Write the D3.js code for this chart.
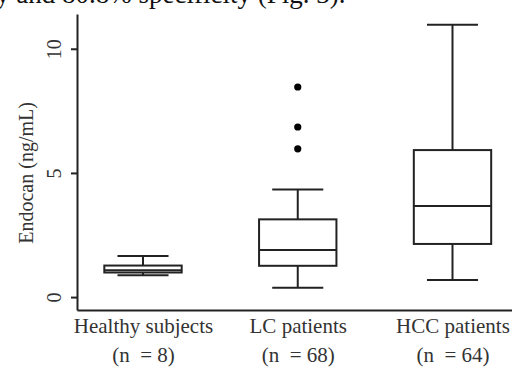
<!DOCTYPE html>
<html>
<head>
<meta charset="utf-8">
<script src="https://cdn.jsdelivr.net/npm/d3@7"></script>
<style>
  body { margin: 0; background: #fff; }
  svg { display: block; font-family: "Liberation Serif", "Times New Roman", serif; }
</style>
</head>
<body>
<svg id="chart" width="512" height="369"></svg>
<script>
const groups = ['Healthy subjects', 'LC patients', 'HCC patients'];
const counts = ['(n \u00a0= 8)', '(n \u00a0= 68)', '(n \u00a0= 64)'];
const whiskerLow = [0.88, 0.38, 0.69];
const q1 = [0.99, 1.26, 2.14];
const medians = [1.08, 1.90, 3.67];
const q3 = [1.27, 3.13, 5.92];
const whiskerHigh = [1.65, 4.33, 10.97];
const outliers = [[], [5.97, 6.85, 8.46], []];
const yTicks = [0, 5, 10];
const headerText = 'y and 80.8% specificity (Fig. 3).';

const svg = d3.select('#chart');
const ink = '#222';

// box centres at 143, 297.7, 452.5 px
const x = d3.scaleLinear().domain([0.5735, 3.3845]).range([77, 512]);
const y = d3.scaleLinear().domain([-0.52, 11.4]).range([310, 14]);
const boxHalf = 0.25;
const capHalf = 0.165;

// cut-off line of body text above the figure (clipped in the source too)
svg.append('text')
    .attr('x', -4)
    .attr('y', 3)
    .attr('font-size', 27)
    .attr('fill', '#111')
    .text(headerText);

const data = groups.map((g, i) => ({
    i: i + 1, lo: whiskerLow[i], q1: q1[i], med: medians[i],
    q3: q3[i], hi: whiskerHigh[i], out: outliers[i]
}));

const box = svg.append('g')
    .selectAll('g')
    .data(data)
    .join('g')
    .attr('stroke', ink)
    .attr('stroke-width', 2)
    .attr('fill', 'none');

// whiskers
box.append('line')
    .attr('x1', d => x(d.i)).attr('x2', d => x(d.i))
    .attr('y1', d => y(d.hi)).attr('y2', d => y(d.q3));
box.append('line')
    .attr('x1', d => x(d.i)).attr('x2', d => x(d.i))
    .attr('y1', d => y(d.q1)).attr('y2', d => y(d.lo));
// caps
box.append('line')
    .attr('x1', d => x(d.i - capHalf)).attr('x2', d => x(d.i + capHalf))
    .attr('y1', d => y(d.hi)).attr('y2', d => y(d.hi));
box.append('line')
    .attr('x1', d => x(d.i - capHalf)).attr('x2', d => x(d.i + capHalf))
    .attr('y1', d => y(d.lo)).attr('y2', d => y(d.lo));
// box
box.append('rect')
    .attr('x', d => x(d.i - boxHalf))
    .attr('width', d => x(d.i + boxHalf) - x(d.i - boxHalf))
    .attr('y', d => y(d.q3))
    .attr('height', d => y(d.q1) - y(d.q3))
    .attr('fill', '#fff');
// median
box.append('line')
    .attr('x1', d => x(d.i - boxHalf)).attr('x2', d => x(d.i + boxHalf))
    .attr('y1', d => y(d.med)).attr('y2', d => y(d.med));
// outliers
box.selectAll('circle')
    .data(d => d.out.map(v => ({ i: d.i, v })))
    .join('circle')
    .attr('cx', d => x(d.i))
    .attr('cy', d => y(d.v))
    .attr('r', 3.6)
    .attr('stroke', 'none')
    .attr('fill', '#000');

// y axis
const yAxis = d3.axisLeft(y)
    .tickValues(yTicks)
    .tickSize(6)
    .tickSizeOuter(0);

svg.append('g')
    .attr('transform', 'translate(77,0)')
    .call(yAxis)
    .call(g => g.selectAll('path, line').attr('stroke', ink).attr('stroke-width', 2))
    .call(g => g.selectAll('.tick text')
        .attr('font-family', '"Liberation Serif", serif')
        .attr('font-size', 20)
        .attr('fill', '#333')
        .attr('x', 0)
        .attr('dy', 0)
        .attr('text-anchor', 'middle')
        .attr('transform', 'translate(-16,0) rotate(-90)'));

// y label
svg.append('text')
    .attr('transform', `translate(33,${y(5)}) rotate(-90)`)
    .attr('text-anchor', 'middle')
    .attr('font-size', 20)
    .attr('fill', '#333')
    .text('Endocan (ng/mL)');

// x axis, two-line labels
const xAxis = d3.axisBottom(x)
    .tickValues([1, 2, 3])
    .tickSize(0)
    .tickSizeOuter(0)
    .tickFormat(d => groups[d - 1]);

svg.append('g')
    .attr('transform', 'translate(0,310)')
    .call(xAxis)
    .call(g => g.select('.domain').attr('stroke', ink).attr('stroke-width', 2))
    .call(g => g.selectAll('.tick text')
        .attr('font-family', '"Liberation Serif", serif')
        .attr('font-size', 21)
        .attr('fill', '#333')
        .attr('y', 23)
        .attr('dy', 0)
        .each(function(d) {
            d3.select(this).append('tspan')
                .attr('x', 0)
                .attr('dy', 29)
                .text(counts[d - 1]);
        }));
</script>
</body>
</html>
